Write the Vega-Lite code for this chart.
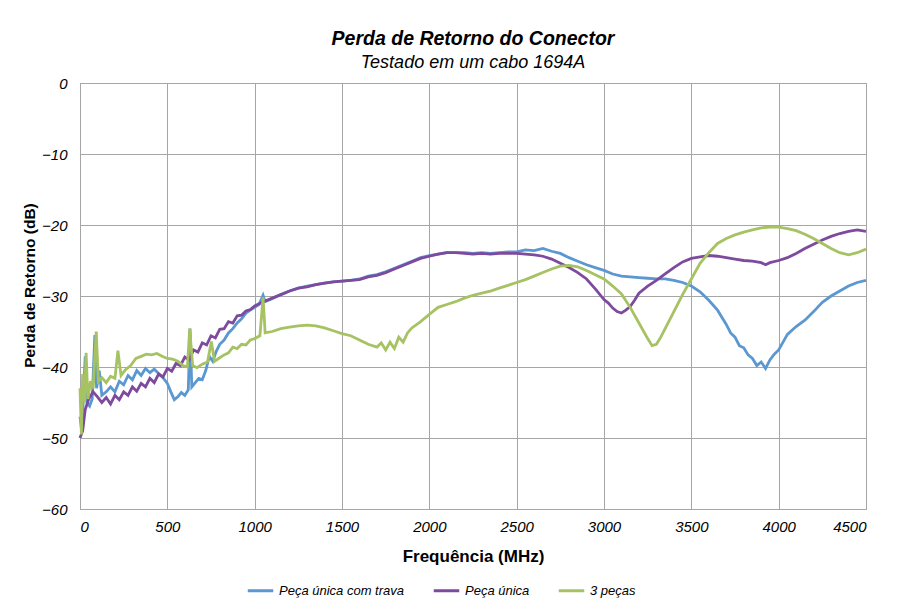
{
  "$schema": "https://vega.github.io/schema/vega-lite/v6.json",
  "width": 786,
  "height": 426,
  "autosize": {"type": "none"},
  "padding": {"left": 80, "top": 83, "right": 32, "bottom": 94},
  "background": "white",
  "title": {
    "text": "Perda de Retorno do Conector",
    "subtitle": "Testado em um cabo 1694A",
    "anchor": "middle",
    "fontSize": 19.5,
    "fontWeight": "bold",
    "fontStyle": "italic",
    "color": "#000",
    "subtitleFontSize": 18,
    "subtitleFontStyle": "italic",
    "subtitleColor": "#000",
    "subtitlePadding": 5,
    "offset": 3
  },
  "data": {"values": [
    {"s":"Peça única com trava","f":0,"v":-47},{"s":"Peça única com trava","f":10,"v":-49},{"s":"Peça única com trava","f":20,"v":-44},{"s":"Peça única com trava","f":30,"v":-38.5},{"s":"Peça única com trava","f":40,"v":-45},{"s":"Peça única com trava","f":55,"v":-45.5},{"s":"Peça única com trava","f":70,"v":-44.5},{"s":"Peça única com trava","f":85,"v":-35.5},{"s":"Peça única com trava","f":95,"v":-43},{"s":"Peça única com trava","f":110,"v":-40.5},{"s":"Peça única com trava","f":125,"v":-44},{"s":"Peça única com trava","f":150,"v":-43.5},{"s":"Peça única com trava","f":175,"v":-42.8},{"s":"Peça única com trava","f":200,"v":-43.5},{"s":"Peça única com trava","f":225,"v":-42},{"s":"Peça única com trava","f":250,"v":-42.5},{"s":"Peça única com trava","f":275,"v":-41.2},{"s":"Peça única com trava","f":300,"v":-41.8},{"s":"Peça única com trava","f":325,"v":-40.5},{"s":"Peça única com trava","f":350,"v":-41.2},{"s":"Peça única com trava","f":375,"v":-40.2},{"s":"Peça única com trava","f":400,"v":-40.8},{"s":"Peça única com trava","f":425,"v":-40.3},{"s":"Peça única com trava","f":450,"v":-40.9},{"s":"Peça única com trava","f":475,"v":-41.5},{"s":"Peça única com trava","f":500,"v":-42.3},{"s":"Peça única com trava","f":520,"v":-43.5},{"s":"Peça única com trava","f":540,"v":-44.6},{"s":"Peça única com trava","f":560,"v":-44.2},{"s":"Peça única com trava","f":580,"v":-43.6},{"s":"Peça única com trava","f":600,"v":-44},{"s":"Peça única com trava","f":620,"v":-43.2},{"s":"Peça única com trava","f":630,"v":-34.6},{"s":"Peça única com trava","f":640,"v":-42.8},{"s":"Peça única com trava","f":660,"v":-42.2},{"s":"Peça única com trava","f":680,"v":-41.6},{"s":"Peça única com trava","f":700,"v":-41.8},{"s":"Peça única com trava","f":720,"v":-40.5},{"s":"Peça única com trava","f":740,"v":-38.5},{"s":"Peça única com trava","f":760,"v":-39.2},{"s":"Peça única com trava","f":780,"v":-37.8},{"s":"Peça única com trava","f":800,"v":-36.8},{"s":"Peça única com trava","f":825,"v":-36.2},{"s":"Peça única com trava","f":850,"v":-35.2},{"s":"Peça única com trava","f":875,"v":-34.6},{"s":"Peça única com trava","f":900,"v":-33.8},{"s":"Peça única com trava","f":925,"v":-33.2},{"s":"Peça única com trava","f":950,"v":-32.4},{"s":"Peça única com trava","f":975,"v":-32.0},{"s":"Peça única com trava","f":1000,"v":-31.6},{"s":"Peça única com trava","f":1025,"v":-31.2},{"s":"Peça única com trava","f":1048,"v":-29.9},{"s":"Peça única com trava","f":1060,"v":-30.8},{"s":"Peça única com trava","f":1100,"v":-30.4},{"s":"Peça única com trava","f":1150,"v":-29.8},{"s":"Peça única com trava","f":1200,"v":-29.3},{"s":"Peça única com trava","f":1250,"v":-28.9},{"s":"Peça única com trava","f":1300,"v":-28.6},{"s":"Peça única com trava","f":1350,"v":-28.4},{"s":"Peça única com trava","f":1400,"v":-28.2},{"s":"Peça única com trava","f":1450,"v":-28.0},{"s":"Peça única com trava","f":1500,"v":-27.9},{"s":"Peça única com trava","f":1550,"v":-27.8},{"s":"Peça única com trava","f":1600,"v":-27.6},{"s":"Peça única com trava","f":1650,"v":-27.2},{"s":"Peça única com trava","f":1700,"v":-27.0},{"s":"Peça única com trava","f":1750,"v":-26.6},{"s":"Peça única com trava","f":1800,"v":-26.1},{"s":"Peça única com trava","f":1850,"v":-25.6},{"s":"Peça única com trava","f":1900,"v":-25.1},{"s":"Peça única com trava","f":1950,"v":-24.6},{"s":"Peça única com trava","f":2000,"v":-24.3},{"s":"Peça única com trava","f":2050,"v":-24.1},{"s":"Peça única com trava","f":2100,"v":-23.9},{"s":"Peça única com trava","f":2150,"v":-23.9},{"s":"Peça única com trava","f":2200,"v":-23.9},{"s":"Peça única com trava","f":2250,"v":-24.0},{"s":"Peça única com trava","f":2300,"v":-23.9},{"s":"Peça única com trava","f":2350,"v":-24.0},{"s":"Peça única com trava","f":2400,"v":-23.9},{"s":"Peça única com trava","f":2450,"v":-23.8},{"s":"Peça única com trava","f":2500,"v":-23.8},{"s":"Peça única com trava","f":2550,"v":-23.5},{"s":"Peça única com trava","f":2600,"v":-23.6},{"s":"Peça única com trava","f":2650,"v":-23.3},{"s":"Peça única com trava","f":2700,"v":-23.7},{"s":"Peça única com trava","f":2750,"v":-24.0},{"s":"Peça única com trava","f":2800,"v":-24.6},{"s":"Peça única com trava","f":2850,"v":-25.1},{"s":"Peça única com trava","f":2900,"v":-25.6},{"s":"Peça única com trava","f":2950,"v":-26.0},{"s":"Peça única com trava","f":3000,"v":-26.4},{"s":"Peça única com trava","f":3050,"v":-26.9},{"s":"Peça única com trava","f":3100,"v":-27.2},{"s":"Peça única com trava","f":3150,"v":-27.3},{"s":"Peça única com trava","f":3200,"v":-27.4},{"s":"Peça única com trava","f":3250,"v":-27.5},{"s":"Peça única com trava","f":3300,"v":-27.6},{"s":"Peça única com trava","f":3350,"v":-27.6},{"s":"Peça única com trava","f":3400,"v":-27.8},{"s":"Peça única com trava","f":3450,"v":-28.1},{"s":"Peça única com trava","f":3500,"v":-28.6},{"s":"Peça única com trava","f":3550,"v":-29.4},{"s":"Peça única com trava","f":3600,"v":-30.6},{"s":"Peça única com trava","f":3650,"v":-32.0},{"s":"Peça única com trava","f":3700,"v":-34.0},{"s":"Peça única com trava","f":3725,"v":-35.2},{"s":"Peça única com trava","f":3750,"v":-35.8},{"s":"Peça única com trava","f":3775,"v":-37.0},{"s":"Peça única com trava","f":3800,"v":-37.3},{"s":"Peça única com trava","f":3825,"v":-38.3},{"s":"Peça única com trava","f":3850,"v":-38.8},{"s":"Peça única com trava","f":3875,"v":-39.8},{"s":"Peça única com trava","f":3900,"v":-39.3},{"s":"Peça única com trava","f":3925,"v":-40.2},{"s":"Peça única com trava","f":3950,"v":-39.0},{"s":"Peça única com trava","f":3975,"v":-38.2},{"s":"Peça única com trava","f":4000,"v":-37.6},{"s":"Peça única com trava","f":4025,"v":-36.5},{"s":"Peça única com trava","f":4050,"v":-35.4},{"s":"Peça única com trava","f":4100,"v":-34.3},{"s":"Peça única com trava","f":4150,"v":-33.4},{"s":"Peça única com trava","f":4200,"v":-32.2},{"s":"Peça única com trava","f":4250,"v":-30.9},{"s":"Peça única com trava","f":4300,"v":-30.0},{"s":"Peça única com trava","f":4350,"v":-29.3},{"s":"Peça única com trava","f":4400,"v":-28.6},{"s":"Peça única com trava","f":4450,"v":-28.1},{"s":"Peça única com trava","f":4500,"v":-27.8},

    {"s":"Peça única","f":0,"v":-50},{"s":"Peça única","f":15,"v":-49},{"s":"Peça única","f":30,"v":-46},{"s":"Peça única","f":50,"v":-44.5},{"s":"Peça única","f":75,"v":-43.5},{"s":"Peça única","f":100,"v":-44.2},{"s":"Peça única","f":125,"v":-45},{"s":"Peça única","f":150,"v":-44.3},{"s":"Peça única","f":175,"v":-45.2},{"s":"Peça única","f":200,"v":-44},{"s":"Peça única","f":225,"v":-44.6},{"s":"Peça única","f":250,"v":-43.5},{"s":"Peça única","f":275,"v":-44.0},{"s":"Peça única","f":300,"v":-42.8},{"s":"Peça única","f":325,"v":-43.4},{"s":"Peça única","f":350,"v":-42.3},{"s":"Peça única","f":375,"v":-42.8},{"s":"Peça única","f":400,"v":-41.6},{"s":"Peça única","f":425,"v":-42.2},{"s":"Peça única","f":450,"v":-41.0},{"s":"Peça única","f":475,"v":-41.4},{"s":"Peça única","f":500,"v":-40.2},{"s":"Peça única","f":525,"v":-40.6},{"s":"Peça única","f":550,"v":-39.5},{"s":"Peça única","f":575,"v":-39.8},{"s":"Peça única","f":600,"v":-38.6},{"s":"Peça única","f":625,"v":-39.0},{"s":"Peça única","f":650,"v":-37.6},{"s":"Peça única","f":675,"v":-37.9},{"s":"Peça única","f":700,"v":-36.6},{"s":"Peça única","f":725,"v":-36.9},{"s":"Peça única","f":750,"v":-35.6},{"s":"Peça única","f":775,"v":-35.9},{"s":"Peça única","f":800,"v":-34.7},{"s":"Peça única","f":825,"v":-34.6},{"s":"Peça única","f":850,"v":-33.6},{"s":"Peça única","f":875,"v":-33.8},{"s":"Peça única","f":900,"v":-32.8},{"s":"Peça única","f":925,"v":-32.7},{"s":"Peça única","f":950,"v":-32.1},{"s":"Peça única","f":975,"v":-31.9},{"s":"Peça única","f":1000,"v":-31.4},{"s":"Peça única","f":1025,"v":-31.1},{"s":"Peça única","f":1050,"v":-30.8},{"s":"Peça única","f":1100,"v":-30.3},{"s":"Peça única","f":1150,"v":-29.8},{"s":"Peça única","f":1200,"v":-29.3},{"s":"Peça única","f":1250,"v":-28.9},{"s":"Peça única","f":1300,"v":-28.7},{"s":"Peça única","f":1350,"v":-28.4},{"s":"Peça única","f":1400,"v":-28.2},{"s":"Peça única","f":1450,"v":-28.0},{"s":"Peça única","f":1500,"v":-27.9},{"s":"Peça única","f":1550,"v":-27.8},{"s":"Peça única","f":1600,"v":-27.7},{"s":"Peça única","f":1650,"v":-27.3},{"s":"Peça única","f":1700,"v":-27.1},{"s":"Peça única","f":1750,"v":-26.7},{"s":"Peça única","f":1800,"v":-26.2},{"s":"Peça única","f":1850,"v":-25.7},{"s":"Peça única","f":1900,"v":-25.2},{"s":"Peça única","f":1950,"v":-24.7},{"s":"Peça única","f":2000,"v":-24.4},{"s":"Peça única","f":2050,"v":-24.1},{"s":"Peça única","f":2100,"v":-23.9},{"s":"Peça única","f":2150,"v":-23.9},{"s":"Peça única","f":2200,"v":-24.0},{"s":"Peça única","f":2250,"v":-24.1},{"s":"Peça única","f":2300,"v":-24.0},{"s":"Peça única","f":2350,"v":-24.1},{"s":"Peça única","f":2400,"v":-24.0},{"s":"Peça única","f":2450,"v":-24.0},{"s":"Peça única","f":2500,"v":-24.0},{"s":"Peça única","f":2550,"v":-24.1},{"s":"Peça única","f":2600,"v":-24.2},{"s":"Peça única","f":2650,"v":-24.4},{"s":"Peça única","f":2700,"v":-24.8},{"s":"Peça única","f":2750,"v":-25.4},{"s":"Peça única","f":2800,"v":-26.0},{"s":"Peça única","f":2850,"v":-26.7},{"s":"Peça única","f":2900,"v":-27.6},{"s":"Peça única","f":2950,"v":-29.0},{"s":"Peça única","f":3000,"v":-30.5},{"s":"Peça única","f":3025,"v":-31.0},{"s":"Peça única","f":3050,"v":-31.7},{"s":"Peça única","f":3075,"v":-32.2},{"s":"Peça única","f":3100,"v":-32.4},{"s":"Peça única","f":3125,"v":-32.0},{"s":"Peça única","f":3150,"v":-31.5},{"s":"Peça única","f":3175,"v":-30.6},{"s":"Peça única","f":3200,"v":-29.6},{"s":"Peça única","f":3250,"v":-28.6},{"s":"Peça única","f":3300,"v":-27.8},{"s":"Peça única","f":3350,"v":-26.9},{"s":"Peça única","f":3400,"v":-26.0},{"s":"Peça única","f":3450,"v":-25.2},{"s":"Peça única","f":3500,"v":-24.7},{"s":"Peça única","f":3550,"v":-24.5},{"s":"Peça única","f":3600,"v":-24.3},{"s":"Peça única","f":3650,"v":-24.4},{"s":"Peça única","f":3700,"v":-24.6},{"s":"Peça única","f":3750,"v":-24.8},{"s":"Peça única","f":3800,"v":-25.0},{"s":"Peça única","f":3850,"v":-25.1},{"s":"Peça única","f":3900,"v":-25.3},{"s":"Peça única","f":3925,"v":-25.6},{"s":"Peça única","f":3950,"v":-25.3},{"s":"Peça única","f":4000,"v":-25.0},{"s":"Peça única","f":4050,"v":-24.6},{"s":"Peça única","f":4100,"v":-24.0},{"s":"Peça única","f":4150,"v":-23.3},{"s":"Peça única","f":4200,"v":-22.7},{"s":"Peça única","f":4250,"v":-22.1},{"s":"Peça única","f":4300,"v":-21.6},{"s":"Peça única","f":4350,"v":-21.2},{"s":"Peça única","f":4400,"v":-20.9},{"s":"Peça única","f":4450,"v":-20.7},{"s":"Peça única","f":4500,"v":-20.9},

    {"s":"3 peças","f":0,"v":-43},{"s":"3 peças","f":8,"v":-49.5},{"s":"3 peças","f":15,"v":-41},{"s":"3 peças","f":25,"v":-45},{"s":"3 peças","f":35,"v":-38},{"s":"3 peças","f":45,"v":-44.5},{"s":"3 peças","f":60,"v":-42},{"s":"3 peças","f":75,"v":-43},{"s":"3 peças","f":93,"v":-35},{"s":"3 peças","f":105,"v":-42},{"s":"3 peças","f":125,"v":-41.5},{"s":"3 peças","f":150,"v":-42.2},{"s":"3 peças","f":175,"v":-41.3},{"s":"3 peças","f":200,"v":-41.6},{"s":"3 peças","f":217,"v":-37.7},{"s":"3 peças","f":235,"v":-41.2},{"s":"3 peças","f":260,"v":-40.4},{"s":"3 peças","f":290,"v":-39.8},{"s":"3 peças","f":320,"v":-38.8},{"s":"3 peças","f":350,"v":-38.5},{"s":"3 peças","f":380,"v":-38.2},{"s":"3 peças","f":410,"v":-38.3},{"s":"3 peças","f":440,"v":-38.1},{"s":"3 peças","f":470,"v":-38.5},{"s":"3 peças","f":500,"v":-38.8},{"s":"3 peças","f":530,"v":-38.9},{"s":"3 peças","f":560,"v":-39.2},{"s":"3 peças","f":590,"v":-39.8},{"s":"3 peças","f":615,"v":-40.0},{"s":"3 peças","f":628,"v":-34.6},{"s":"3 peças","f":645,"v":-39.8},{"s":"3 peças","f":670,"v":-40.1},{"s":"3 peças","f":700,"v":-39.6},{"s":"3 peças","f":730,"v":-39.3},{"s":"3 peças","f":752,"v":-36.4},{"s":"3 peças","f":770,"v":-39.2},{"s":"3 peças","f":800,"v":-38.7},{"s":"3 peças","f":825,"v":-38.3},{"s":"3 peças","f":850,"v":-38.0},{"s":"3 peças","f":875,"v":-37.2},{"s":"3 peças","f":900,"v":-37.4},{"s":"3 peças","f":925,"v":-36.8},{"s":"3 peças","f":950,"v":-36.9},{"s":"3 peças","f":975,"v":-36.2},{"s":"3 peças","f":1000,"v":-36.0},{"s":"3 peças","f":1030,"v":-35.6},{"s":"3 peças","f":1048,"v":-30.2},{"s":"3 peças","f":1060,"v":-35.2},{"s":"3 peças","f":1100,"v":-35.0},{"s":"3 peças","f":1150,"v":-34.6},{"s":"3 peças","f":1200,"v":-34.4},{"s":"3 peças","f":1250,"v":-34.2},{"s":"3 peças","f":1300,"v":-34.1},{"s":"3 peças","f":1350,"v":-34.2},{"s":"3 peças","f":1400,"v":-34.5},{"s":"3 peças","f":1450,"v":-34.9},{"s":"3 peças","f":1500,"v":-35.3},{"s":"3 peças","f":1550,"v":-35.6},{"s":"3 peças","f":1600,"v":-36.2},{"s":"3 peças","f":1650,"v":-36.8},{"s":"3 peças","f":1700,"v":-37.2},{"s":"3 peças","f":1725,"v":-36.6},{"s":"3 peças","f":1750,"v":-37.6},{"s":"3 peças","f":1775,"v":-36.5},{"s":"3 peças","f":1800,"v":-37.4},{"s":"3 peças","f":1825,"v":-35.8},{"s":"3 peças","f":1850,"v":-36.5},{"s":"3 peças","f":1875,"v":-35.2},{"s":"3 peças","f":1900,"v":-34.5},{"s":"3 peças","f":1950,"v":-33.6},{"s":"3 peças","f":2000,"v":-32.6},{"s":"3 peças","f":2050,"v":-31.6},{"s":"3 peças","f":2100,"v":-31.2},{"s":"3 peças","f":2150,"v":-30.8},{"s":"3 peças","f":2200,"v":-30.3},{"s":"3 peças","f":2250,"v":-29.9},{"s":"3 peças","f":2300,"v":-29.6},{"s":"3 peças","f":2350,"v":-29.3},{"s":"3 peças","f":2400,"v":-28.9},{"s":"3 peças","f":2450,"v":-28.5},{"s":"3 peças","f":2500,"v":-28.1},{"s":"3 peças","f":2550,"v":-27.7},{"s":"3 peças","f":2600,"v":-27.2},{"s":"3 peças","f":2650,"v":-26.7},{"s":"3 peças","f":2700,"v":-26.2},{"s":"3 peças","f":2750,"v":-25.8},{"s":"3 peças","f":2800,"v":-25.7},{"s":"3 peças","f":2850,"v":-25.9},{"s":"3 peças","f":2900,"v":-26.4},{"s":"3 peças","f":2950,"v":-27.0},{"s":"3 peças","f":3000,"v":-27.6},{"s":"3 peças","f":3050,"v":-28.6},{"s":"3 peças","f":3100,"v":-29.7},{"s":"3 peças","f":3150,"v":-31.6},{"s":"3 peças","f":3200,"v":-33.8},{"s":"3 peças","f":3250,"v":-36.0},{"s":"3 peças","f":3275,"v":-37.0},{"s":"3 peças","f":3300,"v":-36.8},{"s":"3 peças","f":3325,"v":-35.8},{"s":"3 peças","f":3350,"v":-34.6},{"s":"3 peças","f":3400,"v":-32.2},{"s":"3 peças","f":3450,"v":-29.8},{"s":"3 peças","f":3500,"v":-27.6},{"s":"3 peças","f":3550,"v":-25.4},{"s":"3 peças","f":3600,"v":-23.9},{"s":"3 peças","f":3650,"v":-22.6},{"s":"3 peças","f":3700,"v":-21.9},{"s":"3 peças","f":3750,"v":-21.4},{"s":"3 peças","f":3800,"v":-21.0},{"s":"3 peças","f":3850,"v":-20.7},{"s":"3 peças","f":3900,"v":-20.4},{"s":"3 peças","f":3950,"v":-20.3},{"s":"3 peças","f":4000,"v":-20.3},{"s":"3 peças","f":4050,"v":-20.5},{"s":"3 peças","f":4100,"v":-20.8},{"s":"3 peças","f":4150,"v":-21.3},{"s":"3 peças","f":4200,"v":-21.9},{"s":"3 peças","f":4250,"v":-22.6},{"s":"3 peças","f":4300,"v":-23.3},{"s":"3 peças","f":4350,"v":-23.9},{"s":"3 peças","f":4400,"v":-24.2},{"s":"3 peças","f":4450,"v":-23.9},{"s":"3 peças","f":4500,"v":-23.4}
  ]},
  "encoding": {
    "x": {"field": "f", "type": "quantitative", "scale": {"domain": [0, 4500], "nice": false},
      "axis": {"values": [0,500,1000,1500,2000,2500,3000,3500,4000,4500], "format": "d", "title": "Frequência (MHz)", "labelPadding": 10, "titlePadding": 14, "titleFontSize": 17}},
    "y": {"field": "v", "type": "quantitative", "scale": {"domain": [-60, 0], "nice": false},
      "axis": {"values": [-60,-50,-40,-30,-20,-10,0], "format": "d", "title": "Perda de Retorno (dB)", "labelPadding": 13, "titlePadding": 4, "titleFontSize": 15.5, "titleY": 202}},
    "color": {"field": "s", "type": "nominal",
      "scale": {"domain": ["Peça única com trava", "Peça única", "3 peças"], "range": ["#5b97d0", "#7d4a9e", "#a6c263"]},
      "legend": {"title": null, "orient": "none", "legendX": 166, "legendY": 493, "direction": "horizontal",
        "symbolType": "stroke", "symbolStrokeWidth": 3, "symbolSize": 650, "labelFontSize": 13, "labelFontStyle": "italic",
        "labelColor": "#000", "columnPadding": 22, "symbolOffset": 0}}
  },
  "layer": [
    {"transform": [{"filter": "datum.s === 'Peça única com trava'"}], "mark": {"type": "line", "strokeWidth": 2.8}},
    {"transform": [{"filter": "datum.s === 'Peça única'"}], "mark": {"type": "line", "strokeWidth": 2.8}},
    {"transform": [{"filter": "datum.s === '3 peças'"}], "mark": {"type": "line", "strokeWidth": 2.8}}
  ],
  "config": {
    "font": "Liberation Sans, sans-serif",
    "view": {"stroke": "#a0a0a0"},
    "axis": {
      "grid": true, "gridColor": "#a6a6a6", "gridWidth": 1,
      "domainColor": "#a6a6a6", "ticks": false,
      "labelFontStyle": "italic", "labelFontSize": 15, "labelColor": "#000",
      "titleFontSize": 16, "titleFontWeight": "bold", "titleColor": "#000"
    }
  }
}
